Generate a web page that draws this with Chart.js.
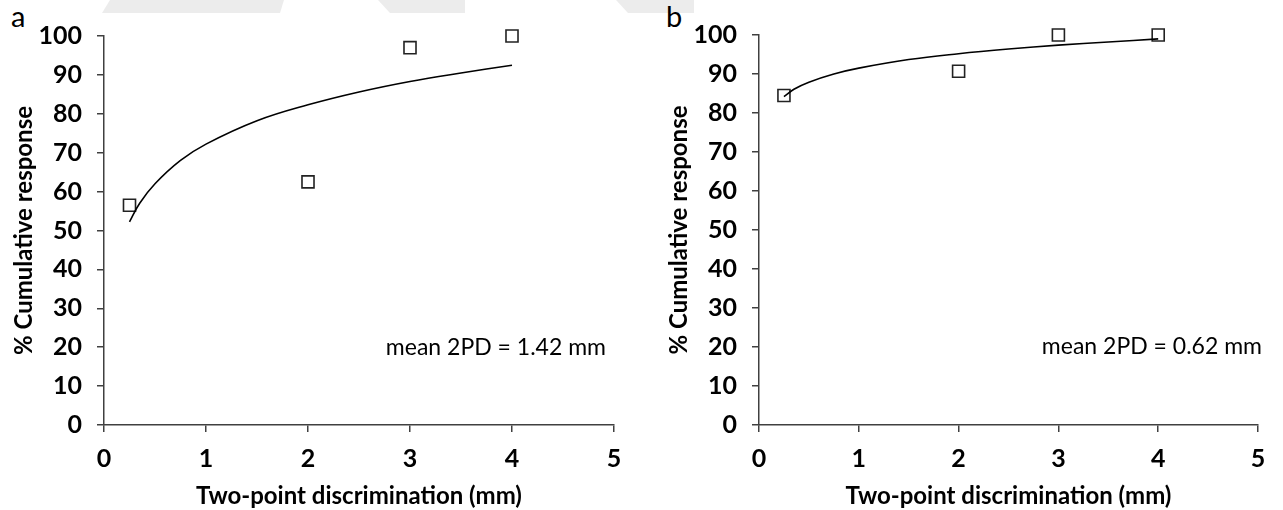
<!DOCTYPE html>
<html>
<head>
<meta charset="utf-8">
<script src="https://cdn.jsdelivr.net/npm/chart.js@4"></script>
<style>
  body { margin: 0; background: #fff; width: 1283px; height: 510px; position: relative; overflow: hidden; font-family: Lato, sans-serif; }
  .panel { position: absolute; top: 0; height: 510px; }
  .letter { position: absolute; top: -2px; font-size: 29px; color: #000; }
  .wm { position: absolute; top: 0; height: 13px; background: #ececec; }
</style>
</head>
<body>
<!-- faint watermark fragments along the top edge -->
<div class="wm" style="left:102px;width:182px;clip-path:polygon(8px 0,182px 0,178px 13px,0 13px)"></div>
<div class="wm" style="left:378px;width:87px;clip-path:polygon(0 0,87px 0,87px 13px,12px 13px)"></div>
<div class="wm" style="left:616px;width:78px;clip-path:polygon(0 0,78px 0,78px 13px,12px 13px)"></div>

<div class="letter" style="left:11px">a</div>
<div class="letter" style="left:666px">b</div>

<div class="panel" style="left:0;width:640px"><canvas id="chartA" width="640" height="510"></canvas></div>
<div class="panel" style="left:655px;width:628px"><canvas id="chartB" width="628" height="510"></canvas></div>

<script>
// measured points (two-point discrimination in mm vs % cumulative response)
const distA = [0.25, 2, 3, 4];
const respA = [56.5, 62.5, 97, 100];
const distB = [0.25, 2, 3, 4];
const respB = [84.5, 90.7, 100, 100];

// fitted trend lines
const fitX = [0.25, 0.35, 0.5, 0.75, 1, 1.5, 2, 2.5, 3, 3.5, 4];
const fitA = [52.2, 57, 62, 68, 72.2, 78.2, 82.3, 85.6, 88.3, 90.5, 92.5];
const fitB = [84.2, 86.1, 87.9, 90, 91.5, 93.7, 95.2, 96.4, 97.4, 98.2, 99];

const xTicks = [0, 1, 2, 3, 4, 5];
const yTicks = [0, 10, 20, 30, 40, 50, 60, 70, 80, 90, 100];

const noteA = 'mean 2PD = 1.42 mm';
const noteB = 'mean 2PD = 0.62 mm';

const axisColor = '#404040';
const tickFont = { family: 'Lato', size: 25, weight: 'bold' };
const titleFont = { family: 'Lato', size: 24, weight: 'bold', lineHeight: 1 };

function pairs(xs, ys) {
  return xs.map((x, i) => ({ x: x, y: ys[i] }));
}

// draws the "mean 2PD" note, right aligned, centred on y = 20
const notePlugin = {
  id: 'note',
  afterDraw(chart, args, opts) {
    const ctx = chart.ctx;
    const y = chart.scales.y.getPixelForValue(20);
    ctx.save();
    ctx.font = '23px Lato';
    ctx.fillStyle = '#000';
    ctx.textAlign = 'right';
    ctx.textBaseline = 'middle';
    ctx.fillText(opts.text, chart.chartArea.right + opts.dx, y);
    ctx.restore();
  }
};

function makeChart(id, dist, resp, fit, note, dx, padTop, padRight) {
  const ctx = document.getElementById(id).getContext('2d');
  return new Chart(ctx, {
    type: 'scatter',
    data: {
      datasets: [{
        label: 'trend',
        type: 'line',
        data: pairs(fitX, fit),
        borderColor: '#000',
        borderWidth: 1.6,
        pointRadius: 0,
        tension: 0.4,
        fill: false,
        clip: false
      }, {
        label: 'data',
        data: pairs(dist, resp),
        pointStyle: 'rect',
        pointRadius: 8.5,
        pointBorderWidth: 1.6,
        pointBorderColor: '#222',
        pointBackgroundColor: 'rgba(255,255,255,0)',
        clip: false
      }]
    },
    plugins: [notePlugin],
    options: {
      responsive: false,
      animation: false,
      layout: { padding: { top: padTop, right: padRight, left: 0, bottom: 0 } },
      plugins: {
        legend: { display: false },
        tooltip: { enabled: false },
        note: { text: note, dx: dx }
      },
      scales: {
        x: {
          type: 'linear',
          min: 0, max: 5,
          afterBuildTicks: s => { s.ticks = xTicks.map(v => ({ value: v })); },
          afterFit: s => { s.height = 85; },
          border: { color: axisColor, width: 1.5 },
          grid: { display: true, drawOnChartArea: false, tickLength: 7, color: axisColor, lineWidth: 1.5 },
          ticks: { color: '#000', font: tickFont, padding: 12, maxRotation: 0 },
          title: { display: true, text: 'Two-point discrimination (mm)', color: '#000', font: titleFont, padding: { top: 0, bottom: 2 } }
        },
        y: {
          min: 0, max: 100,
          afterBuildTicks: s => { s.ticks = yTicks.map(v => ({ value: v })); },
          afterFit: s => { s.width = 104; },
          border: { color: axisColor, width: 1.5 },
          grid: { display: true, drawOnChartArea: false, tickLength: 7, color: axisColor, lineWidth: 1.5 },
          ticks: { color: '#000', font: tickFont, padding: 15 },
          title: { display: true, text: '% Cumulative response', color: '#000', font: titleFont, padding: { top: 12, bottom: 0 } }
        }
      }
    }
  });
}

makeChart('chartA', distA, respA, fitA, noteA, -8, 36, 26);
makeChart('chartB', distB, respB, fitB, noteB, 4, 35, 25);
</script>
</body>
</html>
